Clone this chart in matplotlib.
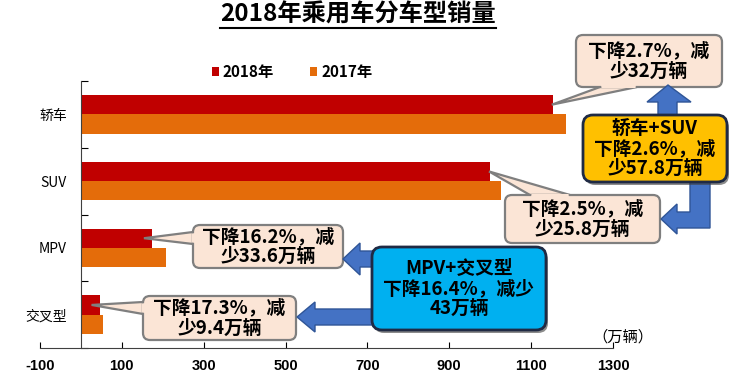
import numpy as np
import matplotlib.pyplot as plt
from matplotlib.patches import FancyBboxPatch, Polygon
from matplotlib.lines import Line2D

plt.rcParams['font.family'] = ['Noto Sans CJK SC', 'DejaVu Sans']
plt.rcParams['axes.unicode_minus'] = False

# 数据（万辆）
types = ['轿车', 'SUV', 'MPV', '交叉型']
sales_2018 = [1152.8, 999.5, 173.5, 45.5]
sales_2017 = [1184.8, 1025.3, 207.1, 54.9]
xticks = [-100, 100, 300, 500, 700, 900, 1100, 1300]

notes = ['下降2.7%，减\n少32万辆', '下降2.5%，减\n少25.8万辆',
         '下降16.2%，减\n少33.6万辆', '下降17.3%，减\n少9.4万辆']
sum_notes = ['轿车+SUV\n下降2.6%，减\n少57.8万辆', 'MPV+交叉型\n下降16.4%，减少\n43万辆']

W, H = 744, 386
fig = plt.figure(figsize=(W / 100, H / 100), dpi=100)
ax = fig.add_axes([40 / W, 1 - 348 / H, 573 / W, 267 / H])

y = np.arange(len(types))
ax.barh(y - 0.145, sales_2018, height=0.29, color='#C00000', label='2018年')
ax.barh(y + 0.145, sales_2017, height=0.29, color='#E46C0A', label='2017年')

ax.set_xlim(-100, 1300)
ax.set_ylim(3.5, -0.5)
ax.set_xticks(xticks)
ax.set_xticklabels([str(v) for v in xticks], fontsize=10.5, fontweight='bold',
                   family=['Liberation Sans', 'DejaVu Sans'])
ax.tick_params(axis='x', direction='in', length=4, width=0.8, pad=8, colors='black')
ax.set_yticks(y)
ax.set_yticklabels(types, fontsize=11.5)
ax.tick_params(axis='y', which='major', length=0, pad=10)
ax.set_yticks(np.arange(-0.5, 3.6, 1), minor=True)
ax.tick_params(axis='y', which='minor', direction='in', length=5, width=0.8)
ax.spines['left'].set_position(('data', 0))
ax.spines['top'].set_visible(False)
ax.spines['right'].set_visible(False)
for s in ['left', 'bottom']:
    ax.spines[s].set_color('#404040')
    ax.spines[s].set_linewidth(0.8)

leg = ax.legend(loc='center', bbox_to_anchor=(292 / W, 1 - 72 / H), bbox_transform=fig.transFigure,
                ncol=2, frameon=False, handlelength=0.45, handleheight=0.45, handletextpad=0.25,
                columnspacing=2.4, prop={'size': 11, 'weight': 'bold'})

# 标题（带下划线）
title = fig.text(358 / W, 1 - 15 / H, '2018年乘用车分车型销量', ha='center', va='center',
                 fontsize=17.5, fontweight='bold')
fig.text(623 / W, 1 - 337 / H, '（万辆）', ha='center', va='center', fontsize=11)

fig.canvas.draw()
bb = title.get_window_extent()
fig.add_artist(Line2D([bb.x0 / W, bb.x1 / W], [1 - 28 / H, 1 - 28 / H], color='black', lw=1.5))

# 覆盖层：像素坐标（左上为原点）
ov = fig.add_axes([0, 0, 1, 1], zorder=5)
ov.set_xlim(0, W)
ov.set_ylim(H, 0)
ov.axis('off')


def to_px(xv, yv):
    px, py = ax.transData.transform((xv, yv))
    return px, H - py


def callout(box, text, tip, base, fc='#FBE5D6', ec='#7F7F7F'):
    x0, y0, x1, y1 = box
    p = FancyBboxPatch((x0, y0), x1 - x0, y1 - y0, boxstyle='round,pad=0,rounding_size=7',
                       fc=fc, ec=ec, lw=1.6, zorder=2)
    ov.add_patch(p)
    ov.add_patch(Polygon([base[0], tip, base[1]], closed=True, fc=fc, ec=ec, lw=1.6, zorder=1))
    # 盖住连接处的边框
    (bx0, by0), (bx1, by1) = base
    if by0 == by1:
        d = 2.5 if by0 == y0 else -2.5
        cover = [(bx0 + 1, by0 + d), (bx0 + 1.5, by0 - d * 0.4), (bx1 - 1.5, by1 - d * 0.4), (bx1 - 1, by1 + d)]
    else:
        d = 2.5
        cover = [(bx0 + d, by0 + 1), (bx0 - d * 0.4, by0 + 1.5), (bx1 - d * 0.4, by1 - 1.5), (bx1 + d, by1 - 1)]
    ov.add_patch(Polygon(cover, closed=True, fc=fc, ec='none', zorder=3))
    ov.text((x0 + x1) / 2, (y0 + y1) / 2, text, ha='center', va='center', fontsize=13.5,
            fontweight='bold', linespacing=1.05, zorder=4)


def sumbox(box, text, fc):
    x0, y0, x1, y1 = box
    ov.add_patch(FancyBboxPatch((x0 + 2, y0 + 3), x1 - x0, y1 - y0, boxstyle='round,pad=0,rounding_size=10',
                                fc='#404040', ec='none', alpha=0.6, zorder=6))
    ov.add_patch(FancyBboxPatch((x0, y0), x1 - x0, y1 - y0, boxstyle='round,pad=0,rounding_size=10',
                                fc=fc, ec='#1F2A44', lw=2, zorder=7))
    ov.text((x0 + x1) / 2, (y0 + y1) / 2, text, ha='center', va='center', fontsize=13.5,
            fontweight='bold', linespacing=1.08, zorder=8)


def arrow(pts):
    ov.add_patch(Polygon(pts, closed=True, fc='#4472C4', ec='#2F5597', lw=1, zorder=5))


# 各车型降幅标注
t0 = to_px(sales_2018[0], y[0] - 0.145)
callout((576, 35, 722, 87), notes[0], (t0[0] - 1, t0[1]), [(600, 87), (637, 87)])
t1 = to_px(sales_2018[1], y[1] - 0.145)
callout((505, 195, 660, 243), notes[1], (t1[0] - 1, t1[1]), [(530, 195), (570, 195)])
t2 = to_px(sales_2018[2], y[2] - 0.145)
callout((193, 225, 343, 268), notes[2], (t2[0] - 8, t2[1]), [(193, 232), (193, 244)])
t3 = to_px(sales_2018[3], y[3] - 0.145)
callout((143, 296, 296, 340), notes[3], (t3[0] - 8, t3[1]), [(143, 302), (143, 314)])

# 箭头
arrow([(658, 118), (658, 102), (647, 102), (668, 85), (691, 102), (677, 102), (677, 118)])
arrow([(690, 180), (710, 180), (710, 228), (677, 228), (677, 234), (661, 219),
       (677, 204), (677, 212), (690, 212)])
arrow([(378, 251), (360, 251), (360, 243), (343, 259), (360, 275), (360, 267), (378, 267)])
arrow([(378, 309), (315, 309), (315, 302), (297, 317), (315, 332), (315, 325), (378, 325)])

# 合计标注
sumbox((583, 115, 727, 182), sum_notes[0], '#FFC000')
sumbox((372, 247, 546, 330), sum_notes[1], '#00B0F0')

fig.savefig('out.png', dpi=100)
